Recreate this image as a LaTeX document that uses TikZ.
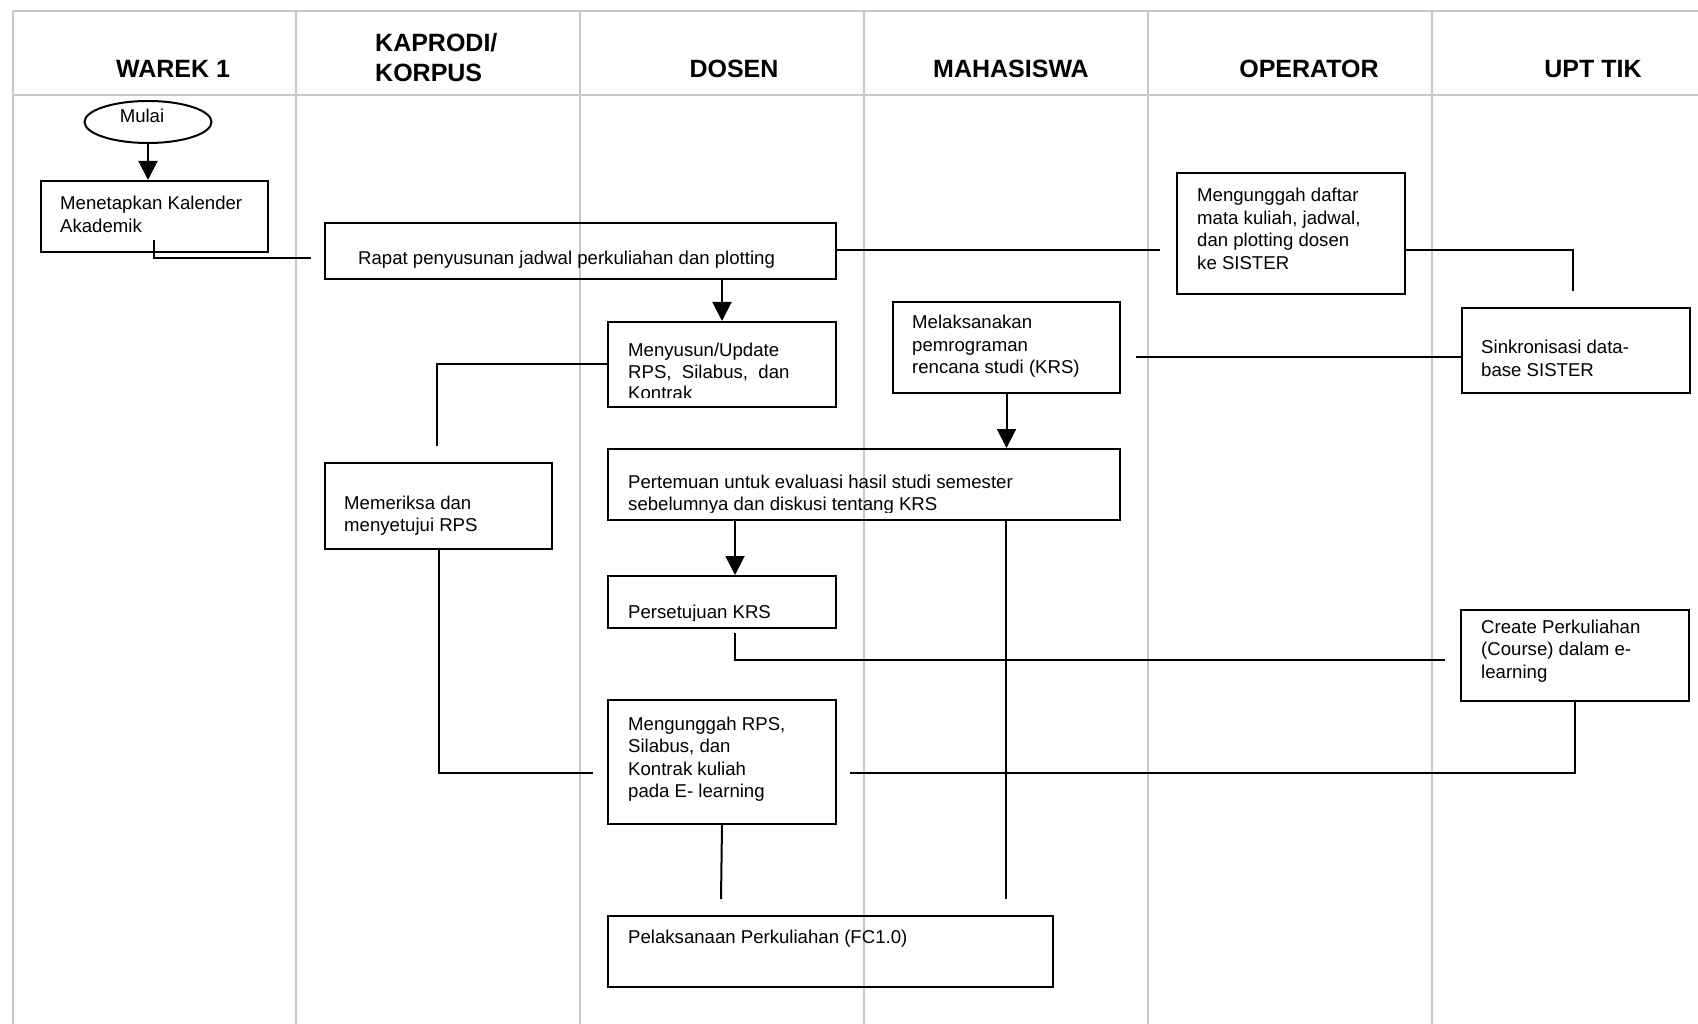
\documentclass[tikz,border=0pt]{standalone}
\usepackage{fontspec}
\setmainfont{Liberation Sans}
\usetikzlibrary{shapes.geometric,arrows.meta,calc}
\newcommand{\mlines}[1]{\begin{tabular}[t]{@{}l@{}}#1\end{tabular}}
\definecolor{lanegray}{RGB}{200,200,200}
\tikzset{
  lane/.style={draw=lanegray, line width=2pt},
  hdr/.style={font=\fontsize{25}{30}\selectfont\bfseries, inner sep=0pt},
  txt/.style={font=\fontsize{18.6}{22.5}\selectfont, inner sep=0pt, anchor=base west},
  box/.style={draw, line width=2pt, rectangle, anchor=north west, inner sep=0pt},
  conn/.style={draw, line width=2pt},
  arr/.style={conn, -{Triangle[width=19pt,length=19pt]}}
}
\begin{document}
\begin{tikzpicture}[x=1pt,y=-1pt]
\useasboundingbox (0,0) rectangle (1698,1024);
% swimlanes
\draw[lane] (13,11) -- (1698,11);
\draw[lane] (13,95) -- (1698,95);
\foreach \xx in {13,296,580,864,1148,1432} \draw[lane] (\xx,11) -- (\xx,1024);
% headers
\node[hdr, anchor=base] (hwarek) at (173,78) {WAREK 1};
\node[hdr, anchor=base west] (hkap) at (375,52) {\mlines{KAPRODI/\\KORPUS}};
\node[hdr, anchor=base] (hdos) at (734,78) {DOSEN};
\node[hdr, anchor=base] (hmhs) at (1011,78) {MAHASISWA};
\node[hdr, anchor=base] (hop) at (1309,78) {OPERATOR};
\node[hdr, anchor=base] (hupt) at (1593,78) {UPT TIK};
% start
\node[ellipse, draw, line width=2pt, minimum width=127pt, minimum height=42pt, inner sep=0pt] (mulai) at (148,122) {};
\node[txt, anchor=base] (tmulai) at (142,123) {Mulai};
% boxes
\node[box, minimum width=227pt, minimum height=71pt] (kal) at (40,180) {};
\node[box, minimum width=511pt, minimum height=56pt] (rapat) at (324,222) {};
\node[box, minimum width=228pt, minimum height=121pt] (upl) at (1176,172) {};
\node[box, minimum width=228pt, minimum height=85pt] (susun) at (607,321) {};
\node[box, minimum width=227pt, minimum height=86pt] (periksa) at (324,462) {};
\node[box, minimum width=227pt, minimum height=91pt] (krs) at (892,301) {};
\node[box, minimum width=228pt, minimum height=85pt] (sinkron) at (1461,307) {};
\node[box, minimum width=512pt, minimum height=71pt] (temu) at (607,448) {};
\node[box, minimum width=228pt, minimum height=52pt] (setuju) at (607,575) {};
\node[box, minimum width=228pt, minimum height=91pt] (create) at (1460,609) {};
\node[box, minimum width=228pt, minimum height=124pt] (rps) at (607,699) {};
\node[box, minimum width=445pt, minimum height=71pt] (laks) at (607,915) {};
% texts
\node[txt] (tkal) at (60,210) {\mlines{Menetapkan Kalender\\Akademik}};
\node[txt] (trapat) at (358,265) {Rapat penyusunan jadwal perkuliahan dan plotting};
\node[txt] (tupl) at (1197,202) {\mlines{Mengunggah daftar\\mata kuliah, jadwal,\\dan plotting dosen\\ke SISTER}};
\begin{scope}
\clip (607,321) rectangle (835,397);
\node[txt] (tsusun) at (628,357) {\mlines{Menyusun/Update\\[-1pt]RPS,\ \ Silabus,\ \ dan\\[-1pt]Kontrak}};
\end{scope}
\node[txt] (tperiksa) at (344,509) {\mlines{Memeriksa dan\\menyetujui RPS}};
\node[txt] (tkrs) at (912,329) {\mlines{Melaksanakan\\pemrograman\\rencana studi (KRS)}};
\node[txt] (tsinkron) at (1481,354) {\mlines{Sinkronisasi data-\\base SISTER}};
\begin{scope}
\clip (607,448) rectangle (1119,512);
\node[txt] (ttemu) at (628,488) {\mlines{Pertemuan untuk evaluasi hasil studi semester\\sebelumnya dan diskusi tentang KRS}};
\end{scope}
\begin{scope}
\clip (607,575) rectangle (835,620);
\node[txt] (tsetuju) at (628,618) {Persetujuan KRS};
\end{scope}
\node[txt] (tcreate) at (1481,633) {\mlines{Create Perkuliahan\\(Course) dalam e-\\learning}};
\node[txt] (trps) at (628,730) {\mlines{Mengunggah RPS,\\Silabus, dan\\Kontrak kuliah\\pada E- learning}};
\node[txt] (tlaks) at (628,943) {Pelaksanaan Perkuliahan (FC1.0)};
% free ends
\coordinate (k1) at (154,240);
\coordinate (k2) at (311,258);
\coordinate (u1) at (1160,250);
\coordinate (s1) at (1573,291);
\coordinate (p1) at (437,446);
\coordinate (r1) at (593,773);
\coordinate (m1) at (1136,357);
\coordinate (l1) at (1006,899);
\coordinate (c1) at (735,633);
\coordinate (c2) at (1445,660);
\coordinate (r2) at (850,773);
\coordinate (l2) at (721,899);
% connectors
\draw[arr] (mulai.south) -- (mulai.south |- kal.north);
\draw[conn] (k1) |- (k2);
\draw[conn] (rapat.east |- u1) -- (u1);
\draw[conn] (upl.east |- u1) -| (s1);
\draw[arr] (rapat.south -| susun.north) -- (susun.north);
\draw[conn] (susun.west) -| (p1);
\draw[conn] (periksa.south) |- (r1);
\draw[conn] (m1) -- (sinkron.west |- m1);
\draw[arr] (krs.south) -- (krs.south |- temu.north);
\draw[arr] (temu.south -| c1) -- (setuju.north -| c1);
\draw[conn] (temu.south -| l1) -- (l1);
\draw[conn] (c1) |- (c2);
\draw[conn] (create.south) |- (r2);
\draw[conn] (rps.south) -- (l2);
\end{tikzpicture}
\end{document}
